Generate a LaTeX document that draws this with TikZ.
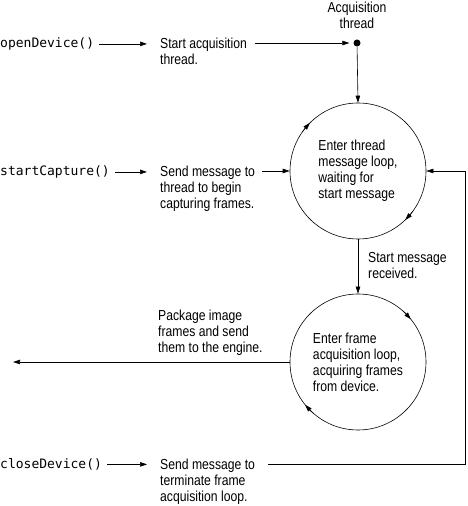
\documentclass[tikz,border=0pt]{standalone}
\usepackage{fontspec}
\setmainfont{Liberation Sans}[FakeStretch=0.84]
\setmonofont{DejaVu Sans Mono}
\usetikzlibrary{arrows.meta,calc,bending}
\begin{document}
\begin{tikzpicture}[x=1pt,y=1pt,
  txt/.style={font=\fontsize{14.5}{16}\selectfont, align=left, inner sep=0pt, anchor=north west},
  code/.style={font=\ttfamily\fontsize{13}{16}\selectfont, inner sep=0pt, anchor=base west},
  arr/.style={-{Triangle[length=7pt,width=4.5pt]}, line width=0.6pt},
  ring/.style={circle, draw, line width=0.6pt, minimum size=136pt, inner sep=0pt, align=left,
    font=\fontsize{14.5}{16}\selectfont}]
\useasboundingbox (0,0) rectangle (467,506);
% labels
\node[code] (od) at (0,458.5) {openDevice()};
\node[code] (sc) at (0,330.5) {startCapture()};
\node[code] (cd) at (0,37.5) {closeDevice()};
\node[txt] (sa) at (160,468.5) {Start acquisition\\thread.};
\node[txt] (sm) at (160,340.5) {Send message to\\thread to begin\\capturing frames.};
\node[txt] (tm) at (160,47) {Send message to\\terminate frame\\acquisition loop.};
\node[txt] (pk) at (158,196) {Package image\\frames and send\\them to the engine.};
\node[txt] (sr) at (368,254) {Start message\\received.};
\node[font=\fontsize{14.5}{16}\selectfont, align=center, inner sep=0pt, anchor=north] (acq) at (357,504) {Acquisition\\thread};
\node[circle, fill, inner sep=0pt, minimum size=7pt] (dot) at (357,463) {};
\node[ring] (c1) at (358,335) {Enter thread\\message loop,\\waiting for\\start message};
\node[ring] (c2) at (358,144) {Enter frame\\acquisition loop,\\acquiring frames\\from device.};
\coordinate (eng) at (13,144);
\coordinate (rt) at (465,335);
% connectors
\draw[arr] ([xshift=5pt]od.east) -- ([xshift=-13pt]od.east -| sa.west);
\draw[arr] ([xshift=8pt]sa.north east |- dot) -- ([xshift=-4pt]dot.west);
\draw[arr] (dot) -- (c1.north);
\draw[arr] ([xshift=5pt]sc.east) -- ([xshift=-13pt]sc.east -| sm.west);
\draw[arr] ([xshift=7pt]sm.north east |- c1.west) -- (c1.west);
\draw[arr] (c1.south) -- (c2.north);
\draw[arr] (c2.west) -- (eng);
\draw[arr] ([xshift=5pt]cd.east) -- ([xshift=-13pt]cd.east -| tm.west);
\draw[arr] ([xshift=13pt]tm.north east |- cd.east) -| (rt) -- (c1.east);
% direction marks on the loops
\draw[arr] ([shift={(145:68)}]c1.center) arc[start angle=145, end angle=135, radius=68];
\draw[arr] ([shift={(-36:68)}]c1.center) arc[start angle=-36, end angle=-46, radius=68];
\draw[arr] ([shift={(49:68)}]c2.center) arc[start angle=49, end angle=39, radius=68];
\draw[arr] ([shift={(229:68)}]c2.center) arc[start angle=229, end angle=219, radius=68];
\end{tikzpicture}
\end{document}
